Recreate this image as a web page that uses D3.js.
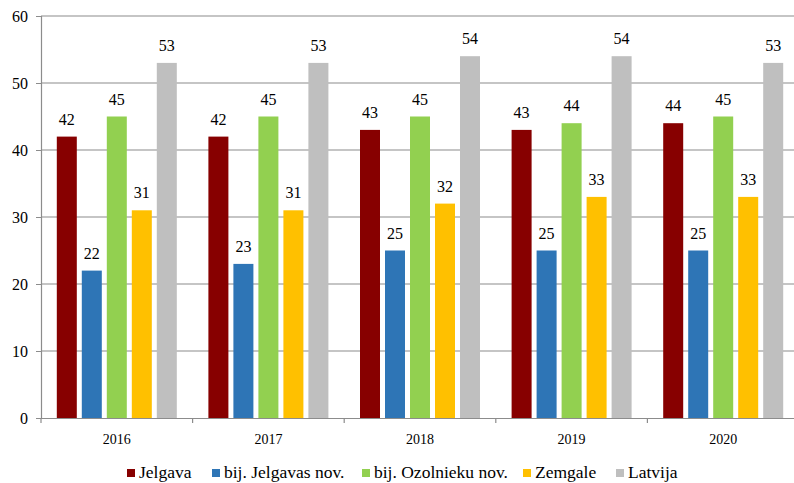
<!DOCTYPE html>
<html>
<head>
<meta charset="utf-8">
<script src="https://cdn.jsdelivr.net/npm/d3@7"></script>
<style>
  body { margin: 0; background: #fff; }
</style>
</head>
<body>
<div id="chart"></div>
<script>
// data
var years = ["2016", "2017", "2018", "2019", "2020"];
var seriesNames = ["Jelgava", "bij. Jelgavas nov.", "bij. Ozolnieku nov.", "Zemgale", "Latvija"];
var seriesColors = ["#870000", "#2E75B6", "#92D050", "#FFC000", "#BFBFBF"];
var jelgava = [42, 42, 43, 43, 44];
var jelgavasNov = [22, 23, 25, 25, 25];
var ozolniekuNov = [45, 45, 45, 44, 45];
var zemgale = [31, 31, 32, 33, 33];
var latvija = [53, 53, 54, 54, 53];
var yTicks = [0, 10, 20, 30, 40, 50, 60];

var allSeries = [jelgava, jelgavasNov, ozolniekuNov, zemgale, latvija];
var serif = "'Liberation Serif', serif";

var W = 794, H = 483;
var margin = {top: 16, right: -5, bottom: 65, left: 41};
var width = W - margin.left - margin.right,
    height = H - margin.top - margin.bottom;

var svg = d3.select("#chart").append("svg")
    .attr("width", W).attr("height", H)
    .style("font-family", serif);
var g = svg.append("g")
    .attr("transform", "translate(" + margin.left + "," + margin.top + ")");

var x = d3.scaleBand().domain(years).range([0, width]).padding(0);
var inner = d3.scaleBand().domain(d3.range(seriesNames.length))
    .range([0, x.bandwidth()])
    .paddingInner(0.2)
    .paddingOuter((x.bandwidth() / 25 - 5 + 0.2) / 2);
var y = d3.scaleLinear().domain([0, 60]).range([height, 0]);

// grid lines
g.append("g").selectAll("line")
  .data(yTicks.filter(function(d) { return d > 0; }))
  .enter().append("line")
    .attr("x1", 0).attr("x2", width)
    .attr("y1", function(d) { return y(d); })
    .attr("y2", function(d) { return y(d); })
    .attr("stroke", "#8c8c8c").attr("stroke-width", 1.2);

// y axis
var yAxis = g.append("g")
    .call(d3.axisLeft(y).tickValues(yTicks).tickSize(5).tickPadding(8));
yAxis.attr("font-family", null);
yAxis.select(".domain").attr("stroke", "#8c8c8c").attr("stroke-width", 1.2);
yAxis.selectAll(".tick line").attr("stroke", "#8c8c8c");
yAxis.selectAll("text").style("font-size", "16px").style("font-family", serif).attr("fill", "#000");

// x axis
var xAxis = g.append("g")
    .attr("transform", "translate(0," + height + ")")
    .call(d3.axisBottom(x).tickSize(0).tickPadding(16));
xAxis.attr("font-family", null);
xAxis.select(".domain").attr("stroke", "#8c8c8c").attr("stroke-width", 1.2);
xAxis.selectAll("text").style("font-size", "14px").style("font-family", serif).attr("fill", "#000");
// category separator ticks
xAxis.append("g").selectAll("line")
  .data(years.concat(["end"]))
  .enter().append("line")
    .attr("x1", function(d, i) { return i * x.step(); })
    .attr("x2", function(d, i) { return i * x.step(); })
    .attr("y1", 0).attr("y2", 5)
    .attr("stroke", "#8c8c8c").attr("stroke-width", 1.2);

// bars
var groups = g.append("g").selectAll("g")
  .data(years)
  .enter().append("g")
    .attr("transform", function(d) { return "translate(" + x(d) + ",0)"; });

allSeries.forEach(function(vals, si) {
  groups.append("rect")
    .attr("x", inner(si))
    .attr("width", inner.bandwidth())
    .attr("y", function(d, i) { return y(vals[i]); })
    .attr("height", function(d, i) { return height - y(vals[i]); })
    .attr("fill", seriesColors[si]);
  groups.append("text")
    .attr("x", inner(si) + inner.bandwidth() / 2)
    .attr("y", function(d, i) { return y(vals[i]) - 12; })
    .attr("text-anchor", "middle")
    .style("font-size", "16px")
    .style("font-family", serif)
    .text(function(d, i) { return vals[i]; });
});

// legend
var legendX = [127, 212, 362, 523, 616];
var legend = svg.append("g").selectAll("g")
  .data(seriesNames)
  .enter().append("g")
    .attr("transform", function(d, i) { return "translate(" + legendX[i] + ",469)"; });
legend.append("rect")
  .attr("width", 8).attr("height", 8)
  .attr("fill", function(d, i) { return seriesColors[i]; });
legend.append("text")
  .attr("x", 12).attr("y", 9)
  .style("font-size", "17.5px")
  .style("font-family", serif)
  .text(function(d) { return d; });
</script>
</body>
</html>
